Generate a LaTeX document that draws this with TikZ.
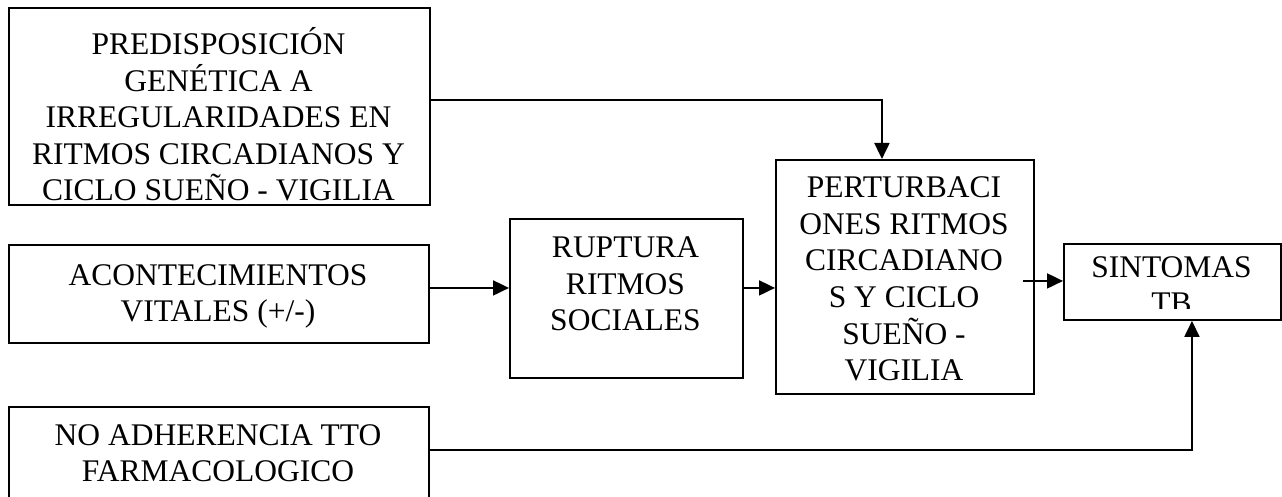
\documentclass[tikz,border=0pt]{standalone}
\usepackage{fontspec}
\setmainfont{Liberation Serif}
\usetikzlibrary{arrows.meta}
\newcommand\boxlines[1]{\vtop{\lineskiplimit=-100pt\halign{\hfil##\hfil\cr#1\crcr}}}
\begin{document}
\begin{tikzpicture}[x=1pt,y=-1pt,
  box/.style={draw, line width=1.9pt, inner sep=0pt, anchor=north west},
  lbl/.style={anchor=base, inner sep=0pt, font=\fontsize{31.5}{36.5}\selectfont},
  arr/.style={line width=1.9pt, -{Triangle[length=16pt,width=15pt]}}]
\useasboundingbox[fill=white] (0,0) rectangle (1282,497);
% boxes
\node[box, minimum width=421pt, minimum height=197pt] (b1) at (8,7) {};
\node[box, minimum width=420pt, minimum height=98pt] (b2) at (8,244) {};
\node[box, minimum width=233pt, minimum height=159pt] (b3) at (509,218) {};
\node[box, minimum width=258pt, minimum height=234pt] (b4) at (775,159) {};
\node[box, minimum width=217pt, minimum height=76pt] (b5) at (1063,243) {};
\node[box, minimum width=420pt, minimum height=120pt] (b6) at (8,406) {};
% labels
\node[lbl] (t1) at (218.5,55) {\boxlines{PREDISPOSICIÓN\cr GENÉTICA A\cr IRREGULARIDADES EN\cr RITMOS CIRCADIANOS Y\cr CICLO SUEÑO - VIGILIA}};
\node[lbl] (t2) at (218,285) {\boxlines{ACONTECIMIENTOS\cr VITALES (+/-)}};
\node[lbl] (t3) at (625.5,258) {\boxlines{RUPTURA\cr RITMOS\cr SOCIALES}};
\node[lbl] (t4) at (904,198) {\boxlines{PERTURBACI\cr ONES RITMOS\cr CIRCADIANO\cr S Y CICLO\cr SUEÑO -\cr VIGILIA}};
\begin{scope}
\clip (1063,243) rectangle (1280,308);
\node[lbl] (t5) at (1171.5,277) {\boxlines{SINTOMAS\cr TB}};
\end{scope}
\node[lbl] (t6) at (218,445) {\boxlines{NO ADHERENCIA TTO\cr FARMACOLOGICO}};
% connectors
\draw[arr] ([yshift=6.5pt]b1.east) -| ([xshift=-23pt]b4.north);
\draw[arr] ([yshift=6pt]b2.east) -- ([yshift=6pt]b2.east -| b3.west);
\draw[arr] ([yshift=10.5pt]b3.east) -- ([yshift=10.5pt]b3.east -| b4.west);
\draw[arr] ([xshift=-12pt,yshift=-4pt]b4.east) -- ([yshift=-4pt]b4.east -| b5.west);
\draw[arr] ([yshift=17pt]b6.east) -| ([xshift=19.5pt]b5.south);
\end{tikzpicture}
\end{document}
